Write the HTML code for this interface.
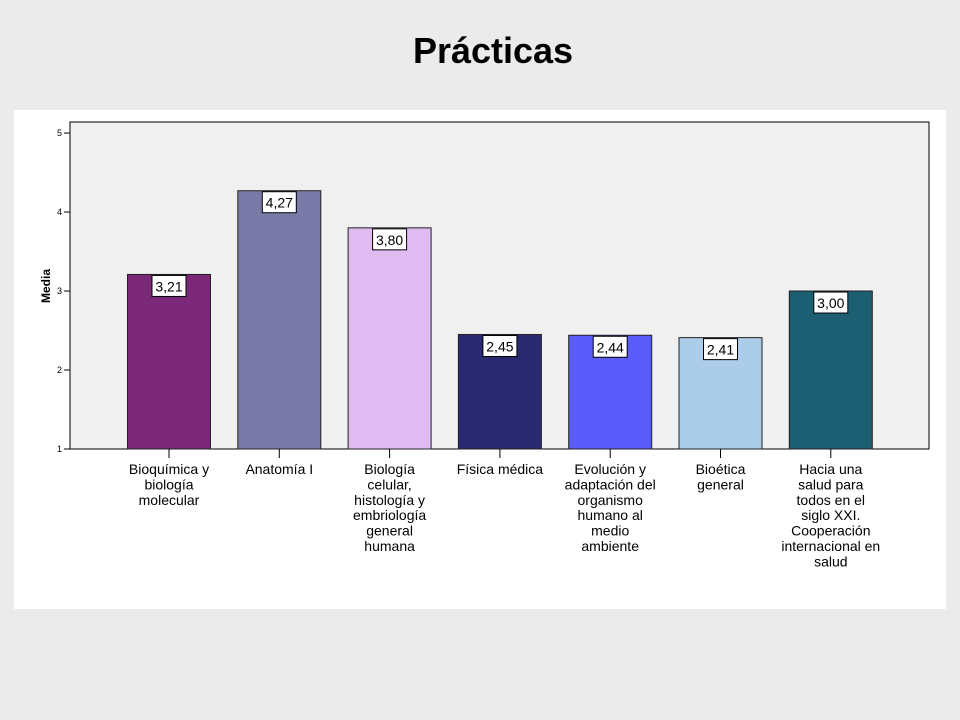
<!DOCTYPE html>
<html><head><meta charset="utf-8"><style>
body{margin:0;background:#ebebeb;width:960px;height:720px;overflow:hidden;font-family:"Liberation Sans",sans-serif}
#title{position:absolute;left:0;width:986px;top:30px;text-align:center;font-size:36px;font-weight:bold;color:#000}
#panel{position:absolute;left:14px;top:110px;width:932px;height:499px;background:#fff}
</style></head><body>
<div id="title">Prácticas</div>
<div id="panel"></div>
<svg id="chart" width="960" height="720" style="position:absolute;left:0;top:0"></svg>
<script>
const categories=[["Bioquímica y","biología","molecular"],["Anatomía I"],["Biología","celular,","histología y","embriología","general","humana"],["Física médica"],["Evolución y","adaptación del","organismo","humano al","medio","ambiente"],["Bioética","general"],["Hacia una","salud para","todos en el","siglo XXI.","Cooperación","internacional en","salud"]];
const values=[3.21,4.27,3.80,2.45,2.44,2.41,3.00];
const valueLabels=["3,21","4,27","3,80","2,45","2,44","2,41","3,00"];
const colors=["#7b2878","#7a7aa8","#dfbbf1","#2a2a72","#5c5cfc","#abcdea","#1c5f73"];
const yTicks=[1,2,3,4,5];
const NS="http://www.w3.org/2000/svg";
const svg=document.getElementById('chart');
const L=70,R=929,T=122,B=449,ymin=1,ymax=5.14;
const y=v=>B-(v-ymin)/(ymax-ymin)*(B-T);
const step=110.3,x0=169;
const xc=i=>x0+i*step;
function mk(t,a){const e=document.createElementNS(NS,t);for(const k in a)e.setAttribute(k,a[k]);svg.appendChild(e);return e;}
const plot=mk('rect',{x:L,y:T,width:R-L,height:B-T,fill:'#f0f0f0',stroke:'#000','stroke-width':1});


yTicks.forEach(t=>{
 const ln=mk('line',{x1:L-6,x2:L,y1:y(t),y2:y(t),stroke:'#000'});
 
 
 const tx=mk('text',{x:L-8,y:y(t)+3,'font-size':9,'text-anchor':'end'});
 tx.textContent=t;
 
 
});
const yt=mk('text',{x:50,y:286,'font-size':12,'font-weight':'bold','text-anchor':'middle',transform:'rotate(-90 50 286)'});
yt.textContent='Media';


values.forEach((v,i)=>{
 const cx=xc(i),w=83;
 const b=mk('rect',{x:cx-w/2,y:y(v),width:w,height:B-y(v),fill:colors[i],stroke:'#222','stroke-width':1});
 
 
 const bx=mk('rect',{x:cx-17,y:y(v)+1,width:34,height:21,fill:'#fff',stroke:'#000','stroke-width':1});
 
 
 const vt=mk('text',{x:cx,y:y(v)+17,'font-size':14,'text-anchor':'middle'});
 vt.textContent=valueLabels[i];
 
 
 const tk=mk('line',{x1:cx,x2:cx,y1:B,y2:B+9,stroke:'#000'});
 
 
 categories[i].forEach((s,j)=>{
  const c=mk('text',{x:cx,y:B+25+j*15.4,'font-size':14,'text-anchor':'middle'});
  c.textContent=s;
  
  
 });
});
</script>
</body></html>
